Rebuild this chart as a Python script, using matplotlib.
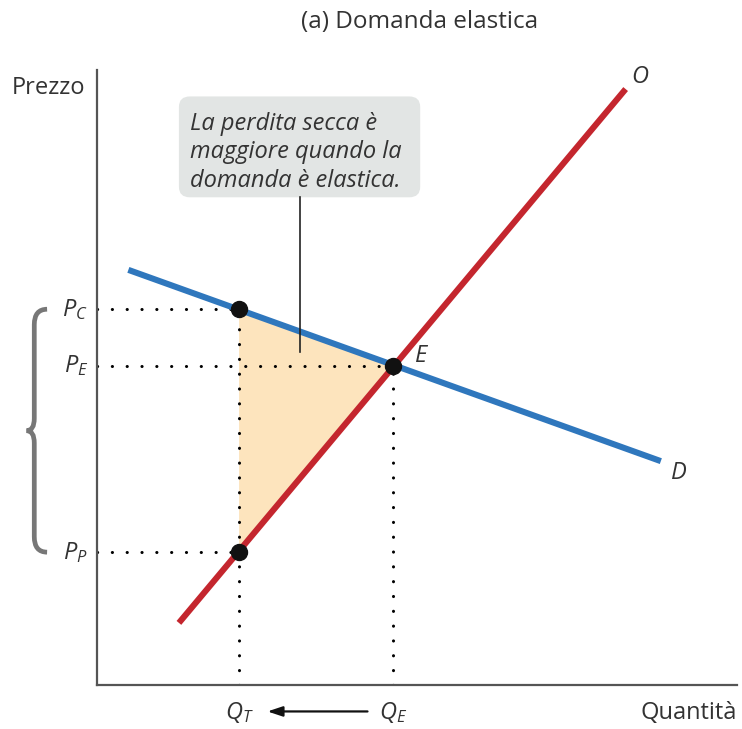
import matplotlib
matplotlib.use("Agg")
import matplotlib.pyplot as plt
from matplotlib.path import Path
from matplotlib.patches import PathPatch, FancyBboxPatch, Polygon

plt.rcParams['font.family'] = ['Open Sans', 'DejaVu Sans']
plt.rcParams['mathtext.fontset'] = 'custom'
plt.rcParams['mathtext.it'] = 'Open Sans:italic'
plt.rcParams['mathtext.rm'] = 'Open Sans'

# dati (unita' arbitrarie)
offerta_x = [1.28, 8.26]
offerta_y = [1.01, 9.69]
domanda_x = [0.49, 8.81]
domanda_y = [6.75, 3.64]
Q_T, Q_E = 2.22, 4.63
P_C, P_E, P_P = 6.11, 5.19, 2.16

RED = "#c4262e"
BLUE = "#2f77bd"
TXT = "#333333"

fig = plt.figure(figsize=(7.42, 7.29), dpi=100)
ax = fig.add_axes([97/742, 44/729, 640/742, 615/729])
ax.set_xlim(0, 10)
ax.set_ylim(0, 10)
for s in ["top", "right"]:
    ax.spines[s].set_visible(False)
for s in ["left", "bottom"]:
    ax.spines[s].set_color("#555555")
    ax.spines[s].set_linewidth(1.6)
ax.set_xticks([])
ax.set_yticks([])

# area della perdita secca
ax.add_patch(Polygon([(Q_T, P_C), (Q_E, P_E), (Q_T, P_P)], closed=True,
                     facecolor="#fde4bd", edgecolor="none", zorder=1))

dot = dict(color="black", lw=2.2, ls=(0, (0.05, 4.8)), dash_capstyle="round", zorder=2)
ax.plot([0, Q_T], [P_C, P_C], **dot)
ax.plot([0, Q_E], [P_E, P_E], **dot)
ax.plot([0, Q_T], [P_P, P_P], **dot)
ax.plot([Q_T, Q_T], [0, P_C], **dot)
ax.plot([Q_E, Q_E], [0, P_E], **dot)

ax.plot(domanda_x, domanda_y, color=BLUE, lw=4.4, solid_capstyle="butt", zorder=3)
ax.plot(offerta_x, offerta_y, color=RED, lw=4.4, solid_capstyle="butt", zorder=4)

ax.plot([Q_T, Q_E, Q_T], [P_C, P_E, P_P], "o", color="#111111", ms=11.5, zorder=5)

ax.text(8.35, 9.88, "O", style="italic", fontsize=17, color=TXT, ha="left", va="center")
ax.text(8.97, 3.45, "D", style="italic", fontsize=17, color=TXT, ha="left", va="center")
ax.text(4.97, 5.35, "E", style="italic", fontsize=17, color=TXT, ha="left", va="center")

# etichette assi
ax.text(-0.14, P_C, r"$P_C$", fontsize=17, color=TXT, ha="right", va="center")
ax.text(-0.14, P_E, r"$P_E$", fontsize=17, color=TXT, ha="right", va="center")
ax.text(-0.14, P_P, r"$P_P$", fontsize=17, color=TXT, ha="right", va="center")
ax.text(Q_T, -0.45, r"$Q_T$", fontsize=17, color=TXT, ha="center", va="center")
ax.text(Q_E, -0.45, r"$Q_E$", fontsize=17, color=TXT, ha="center", va="center")
ax.annotate("", xy=(Q_T + 0.4, -0.43), xytext=(Q_E - 0.36, -0.43),
            arrowprops=dict(arrowstyle="-|>,head_length=0.9,head_width=0.3",
                            color="#111111", lw=1.6), annotation_clip=False)

fig.text(12/742, 1 - 88/729, "Prezzo", fontsize=17, color=TXT, ha="left", va="center")
fig.text(737/742, 1 - 713/729, "Quantità", fontsize=17, color=TXT, ha="right", va="center")
fig.text(420/742, 1 - 22/729, "(a) Domanda elastica", fontsize=17.5, color=TXT,
         ha="center", va="center")

# parentesi graffa
xr, xs, xt = -0.78, -0.98, -1.1
ym = (P_C + P_P) / 2
verts = [(xr, P_C), (xs, P_C), (xs, P_C - 0.25),
         (xs, ym + 0.2), (xs, ym), (xt, ym),
         (xs, ym), (xs, ym - 0.2),
         (xs, P_P + 0.25), (xs, P_P), (xr, P_P)]
codes = [Path.MOVETO, Path.CURVE3, Path.CURVE3,
         Path.LINETO, Path.CURVE3, Path.CURVE3,
         Path.CURVE3, Path.CURVE3,
         Path.LINETO, Path.CURVE3, Path.CURVE3]
ax.add_patch(PathPatch(Path(verts, codes), facecolor="none", edgecolor="#777777",
                       lw=3.4, capstyle="butt", clip_on=False))

# riquadro di commento
ax.add_patch(FancyBboxPatch((1.45, 8.1), 3.43, 1.3, boxstyle="round,pad=0.17",
                            facecolor="#e2e5e4", edgecolor="none", zorder=6))
ax.text(1.45, 8.66, "La perdita secca è\nmaggiore quando la\ndomanda è elastica.",
        style="italic", fontsize=17, color=TXT, ha="left", va="center",
        linespacing=1.24, zorder=7)
ax.plot([3.17, 3.17], [7.93, 5.41], color="#222222", lw=1.2, zorder=6)

fig.savefig("out.png", dpi=100)
